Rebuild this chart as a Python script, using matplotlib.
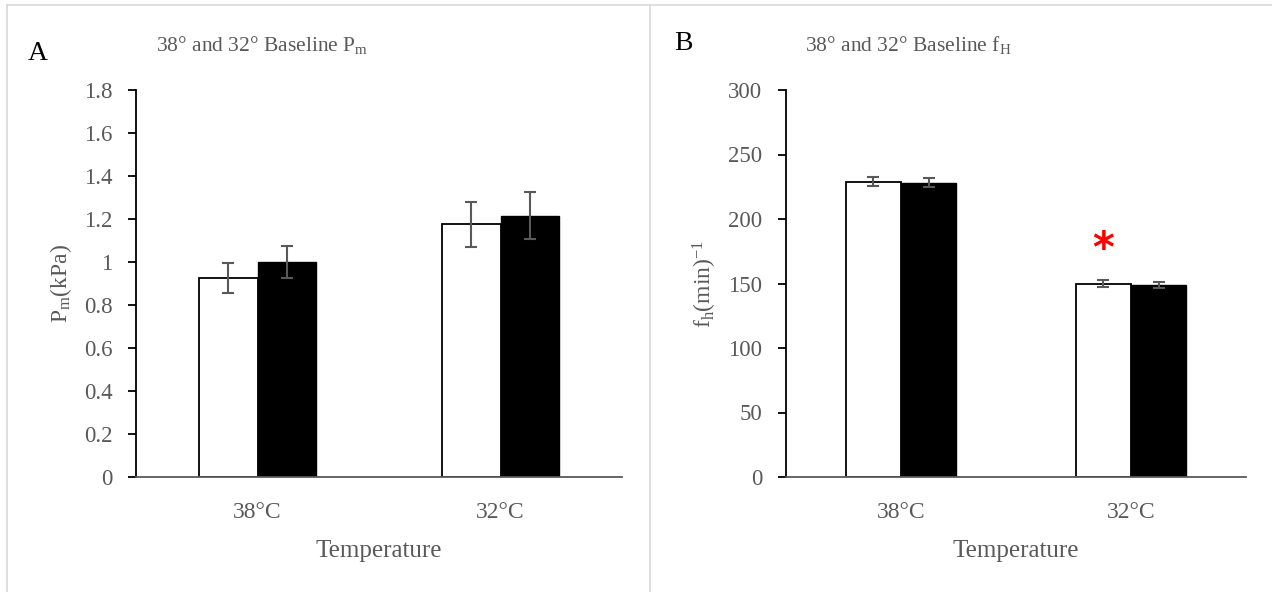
import matplotlib.pyplot as plt
from matplotlib.lines import Line2D
from matplotlib.ticker import FuncFormatter
import numpy as np

# data
temps = ["38°C", "32°C"]
pm_white = [0.925, 1.175]
pm_white_err = [0.07, 0.105]
pm_black = [1.0, 1.215]
pm_black_err = [0.075, 0.11]

fh_white = [229, 150]
fh_white_err = [3.5, 3.0]
fh_black = [228, 149]
fh_black_err = [3.5, 2.5]

plt.rcParams["font.family"] = ["Liberation Serif", "DejaVu Serif"]
plt.rcParams["mathtext.fontset"] = "custom"
plt.rcParams["mathtext.rm"] = "Liberation Serif"
plt.rcParams["mathtext.it"] = "Liberation Serif:italic"

GREY = "#595959"
W, H = 1272, 592
fig = plt.figure(figsize=(W / 100, H / 100), dpi=100)

# panel frames
for seg in [((7, 7), (5, H)), ((650, 650), (5, H)), ((7, W), (5, 5))]:
    fig.add_artist(Line2D(np.array(seg[0]) / W, 1 - np.array(seg[1]) / H,
                          color="#d9d9d9", lw=1.2))


def panel(rect, white, white_err, black, black_err, ylim, step, ylabel, title, letter, letter_xy, title_xy):
    ax = fig.add_axes(rect)
    x = np.arange(len(temps))
    bw = 0.24
    err_kw = dict(ecolor=GREY, elinewidth=1.5, capsize=4, capthick=1.5)
    ax.bar(x - bw / 2, white, bw, yerr=white_err, color="white", edgecolor="black",
           linewidth=1.3, error_kw=err_kw, zorder=2)
    ax.bar(x + bw / 2, black, bw, yerr=black_err, color="black", edgecolor="black",
           linewidth=1.0, error_kw=err_kw, zorder=2)
    ax.set_xlim(-0.5, 1.5)
    ax.set_ylim(*ylim)
    ax.set_yticks(np.arange(ylim[0], ylim[1] + step / 2, step))
    ax.yaxis.set_major_formatter(FuncFormatter(lambda v, p: f"{round(v, 2):g}"))
    ax.set_xticks(x)
    ax.set_xticklabels(temps)
    for s in ["top", "right"]:
        ax.spines[s].set_visible(False)
    ax.spines["left"].set_color("black")
    ax.spines["bottom"].set_color(GREY)
    ax.spines["left"].set_linewidth(1.3)
    ax.spines["bottom"].set_linewidth(1.3)
    ax.tick_params(axis="y", length=6, width=1.3, color="black", pad=11,
                   labelsize=16.5, labelcolor=GREY)
    ax.tick_params(axis="x", length=0, pad=18, labelsize=17, labelcolor=GREY)
    ax.set_xlabel("Temperature", fontsize=18, color=GREY, labelpad=12)
    ax.set_ylabel(ylabel, fontsize=17, color=GREY, labelpad=7)
    fig.text(title_xy[0] / W, 1 - title_xy[1] / H, title, fontsize=15.5, color=GREY,
             ha="center", va="center")
    fig.text(letter_xy[0] / W, 1 - letter_xy[1] / H, letter, fontsize=20, color="black",
             ha="center", va="center")
    return ax


ax1 = panel([136 / W, 1 - 477 / H, 486 / W, 387 / H], pm_white, pm_white_err,
            pm_black, pm_black_err, (0, 1.8), 0.2, r"P$_\mathrm{m}$(kPa)",
            r"38° and 32° Baseline P$_\mathrm{m}$", "A", (38, 54), (262, 45))

ax2 = panel([786 / W, 1 - 477 / H, 460 / W, 387 / H], fh_white, fh_white_err,
            fh_black, fh_black_err, (0, 300), 50, r"f$_\mathrm{h}$(min)$^{-1}$",
            r"38° and 32° Baseline f$_\mathrm{H}$", "B", (683, 44), (908, 45))

# significance marker
ax2.text(1 - 0.12, 176, "*", color="red", fontsize=30, fontweight="bold",
         family="DejaVu Sans", ha="center", va="center")

fig.savefig("out.png", dpi=100)
